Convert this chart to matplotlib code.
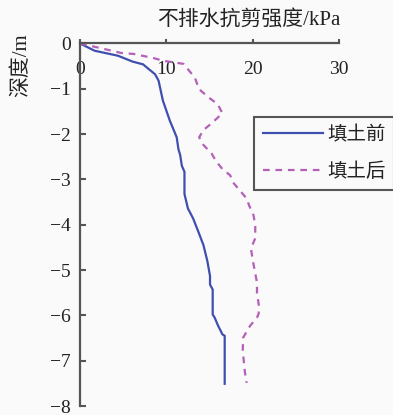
#!/usr/bin/env python3
"""Undrained shear strength vs depth, before / after filling."""
import matplotlib
matplotlib.use("Agg")
import matplotlib.pyplot as plt

# Colors
BLUE = "#3F4FB0"
PINK = "#B45FB8"
AXIS = "#555555"
BG = "#FAFAFA"

SERIF_CJK = ["Liberation Serif", "Noto Sans CJK SC"]

# Data
before_strength = [0, 1.7, 4.4, 6.1, 7.3, 8.7, 9.1, 9.6, 10.4, 11.2, 11.4, 11.6,
                   11.8, 12.1, 12.1, 12.5, 13.1, 13.7, 14.3, 14.75, 15.06, 15.06,
                   15.37, 15.37, 15.6, 16.0, 16.5, 16.76, 16.76]
before_depth = [0, -0.16, -0.27, -0.40, -0.46, -0.68, -0.82, -1.26, -1.70, -2.07,
                -2.33, -2.46, -2.70, -2.83, -3.32, -3.64, -3.86, -4.15, -4.45,
                -4.80, -5.13, -5.32, -5.43, -5.98, -6.05, -6.23, -6.42, -6.45, -7.51]

after_strength = [0, 3.7, 4.8, 6.2, 8.5, 9.6, 12.0, 12.2, 13.3, 13.8, 14.9, 15.95,
                  16.5, 15.25, 14.3, 13.8, 14.3, 15.25, 15.8, 16.5, 17.4, 17.7,
                  18.5, 19.3, 19.6, 20.1, 20.3, 20.3, 19.8, 20.0, 20.5, 20.5,
                  20.7, 20.7, 20.5, 19.7, 18.9, 18.85, 19.1, 19.3]
after_depth = [0, -0.16, -0.21, -0.23, -0.32, -0.38, -0.45, -0.50, -0.75, -1.01,
               -1.19, -1.34, -1.54, -1.76, -1.91, -2.07, -2.24, -2.43, -2.61, -2.77,
               -2.91, -3.06, -3.24, -3.42, -3.58, -3.79, -4.01, -4.30, -4.52, -4.77,
               -5.28, -5.50, -5.76, -5.96, -6.05, -6.23, -6.49, -6.78, -7.25, -7.49]

x_ticks = [0, 10, 20, 30]
y_ticks = [0, -1, -2, -3, -4, -5, -6, -7, -8]

W, H = 393, 415
fig = plt.figure(figsize=(W / 100, H / 100), dpi=100)
fig.patch.set_facecolor(BG)
ax = fig.add_axes([80 / W, 1 - 406 / H, 259 / W, (406 - 43.5) / H])
ax.set_facecolor(BG)

ax.plot(before_strength, before_depth, color=BLUE, lw=1.6, label="填土前")
ax.plot(after_strength, after_depth, color=PINK, lw=1.6,
        dashes=(3, 2.6), label="填土后")

ax.set_xlim(0, 30)
ax.set_ylim(-8, 0)
ax.set_xticks(x_ticks)
ax.set_yticks(y_ticks)
ax.set_yticklabels(["0"] + ["\u2212%d" % -v for v in y_ticks[1:]])

for side in ["right", "bottom"]:
    ax.spines[side].set_visible(False)
for side in ["left", "top"]:
    ax.spines[side].set_color(AXIS)
    ax.spines[side].set_linewidth(1.6)

ax.tick_params(axis="x", top=True, bottom=False, labeltop=True, labelbottom=False,
               direction="out", length=3, width=1.5, color=AXIS, pad=-28,
               labelsize=14)
ax.tick_params(axis="y", direction="in", length=4.5, width=1.5, color=AXIS,
               pad=6.5, labelsize=14)
for lab in ax.get_xticklabels() + ax.get_yticklabels():
    lab.set_family("Liberation Serif")
    lab.set_color("#222222")

fig.text(340 / W, 1 - 20 / H, "不排水抗剪强度/kPa", ha="right", va="center",
         fontsize=15, family=SERIF_CJK, color="#222222")
fig.text(21 / W, 1 - 65 / H, "深度/m", ha="center", va="center", rotation=90,
         fontsize=15, family=SERIF_CJK, color="#222222")

leg = fig.legend(loc="upper left", bbox_to_anchor=(254 / W, 1 - 117 / H),
                 bbox_transform=fig.transFigure, borderaxespad=0,
                 prop={"family": SERIF_CJK, "size": 14}, handlelength=3.1,
                 handletextpad=0.2, labelspacing=0.95, borderpad=0.45,
                 fancybox=False, framealpha=1)
leg.get_frame().set_edgecolor(AXIS)
leg.get_frame().set_linewidth(1.5)
leg.get_frame().set_facecolor(BG)
for t in leg.get_texts():
    t.set_color("#222222")

fig.savefig("out.png", dpi=100, facecolor=BG)
